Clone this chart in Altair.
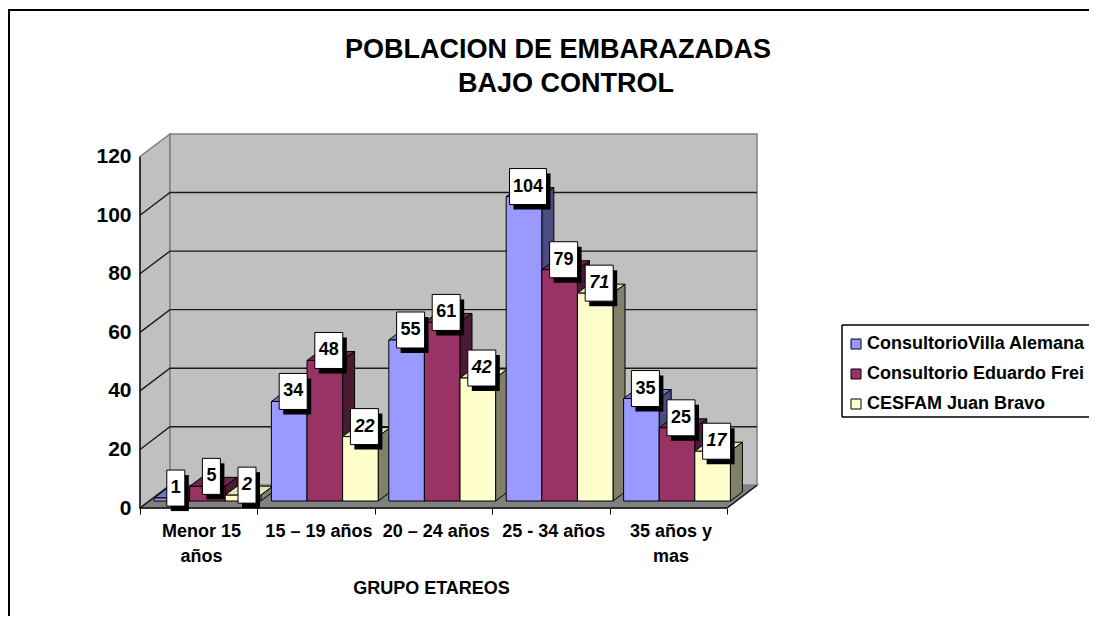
import json
import altair as alt
import pandas as pd

categories = ["Menor 15\naños", "15 – 19 años", "20 – 24 años", "25 - 34 años", "35 años y\nmas"]
series = ["ConsultorioVilla Alemana", "Consultorio Eduardo Frei", "CESFAM Juan Bravo"]
villa = [1, 34, 55, 104, 35]
frei = [5, 48, 61, 79, 25]
juan = [2, 22, 42, 71, 17]
front_colors = ["#9999FF", "#993366", "#FFFFCC"]
side_colors = ["#4C4C80", "#4D1A33", "#80806B"]
top_colors = ["#7373BF", "#732649", "#E6E6B8"]
y_ticks = [0, 20, 40, 60, 80, 100, 120]
grid_values = [20, 40, 60, 80, 100]
title_lines = ["POBLACION DE EMBARAZADAS", "BAJO CONTROL"]
FONT = "Liberation Sans"

PW, PH = 617, 374
CAT_PX = 117.4
VAL_PX = 2.9276
DX, DY = 30 / CAT_PX, 22.7 / VAL_PX
XMAX = 5 + DX
YMAX = 120 + DY
px = lambda p: p / CAT_PX
pv = lambda p: p / VAL_PX

xs = alt.Scale(domain=[0, XMAX], nice=False, zero=False)
ys = alt.Scale(domain=[0, YMAX], nice=False, zero=False)
X = alt.X("x:Q", scale=xs, axis=None)
Y = alt.Y("y:Q", scale=ys, axis=None, stack=None)
Y2 = alt.Y2("y2:Q")
X2 = alt.X2("x2:Q")

# ---------- geometry derived from the values
bar_w = px(35.6)
start = px(14)
base = pv(7)
bdx, bdy = px(12), pv(9)
fronts, faces, boxes = [], [], []
for c in range(len(categories)):
    for s, vals in enumerate([villa, frei, juan]):
        v = vals[c]
        xl = c + start + s * bar_w
        xr = xl + bar_w
        top = base + v
        fronts.append(dict(x=xl, x2=xr, y=base, y2=top, serie=series[s]))
        fid = f"{c}-{s}"
        for x_, a, b in [(xl, top, top), (xl + bdx, top + bdy, top),
                         (xr, top + bdy, top), (xr + bdx, top + bdy, top + bdy)]:
            faces.append(dict(x=x_, y=a, y2=b, id=fid + "t", fill=top_colors[s]))
        for x_, a, b in [(xr, top, base), (xr + bdx, top + bdy, base + bdy)]:
            faces.append(dict(x=x_, y=a, y2=b, id=fid + "s", fill=side_colors[s]))
        w = {1: 18, 2: 28, 3: 37}[len(str(v))]
        cx = (xl + xr) / 2 + px(4)
        cy = top + pv(10)
        boxes.append(dict(x=cx - px(w / 2), x2=cx + px(w / 2), y=cy - pv(18), y2=cy + pv(18),
                          sx=cx - px(w / 2) + px(4), sx2=cx + px(w / 2) + px(4),
                          sy=cy - pv(18) - pv(5), sy2=cy + pv(18) - pv(5),
                          cx=cx, cy=cy, label=str(v), s=s))
fronts = pd.DataFrame(fronts)
faces = pd.DataFrame(faces)
boxes = pd.DataFrame(boxes)

left_wall = pd.DataFrame([dict(x=0, y=120, y2=0), dict(x=DX, y=120 + DY, y2=DY)])
back_wall = pd.DataFrame([dict(x=DX, y=120 + DY, y2=DY), dict(x=XMAX, y=120 + DY, y2=DY)])
floor = pd.DataFrame([dict(x=0, y=0, y2=0), dict(x=DX, y=DY, y2=0),
                      dict(x=5, y=DY, y2=0), dict(x=XMAX, y=DY, y2=DY)])
grid = pd.DataFrame([dict(x=x_, y=v + d, g=v) for v in grid_values
                     for x_, d in [(0, 0), (DX, DY), (XMAX, DY)]])
edges = pd.DataFrame([dict(x=0, y=0, g="l"), dict(x=DX, y=DY, g="l"),
                      dict(x=5, y=0, g="r"), dict(x=XMAX, y=DY, g="r"),
                      dict(x=0, y=0, g="b"), dict(x=5, y=0, g="b"),
                      dict(x=0, y=0, g="a"), dict(x=0, y=120, g="a")])

WALL = "#C0C0C0"
GREY = "#808080"

label_expr = "split(" + json.dumps(categories, ensure_ascii=False) + "[datum.value] || '', '\\n')"
axis_layer = alt.Chart(pd.DataFrame({"x": [0], "y": [0]})).mark_point(opacity=0).encode(
    x=alt.X("x:Q", scale=xs, axis=alt.Axis(
        values=[0, 1, 2, 3, 4, 5], grid=False, domain=False, tickColor="black", tickSize=6, tickWidth=1,
        labelExpr=label_expr, labelOffset=61, labelFont=FONT, labelFontSize=18, labelFontWeight="bold",
        labelColor="black", labelOverlap=False, labelBound=False, labelFlush=False, labelPadding=8,
        labelLineHeight=25, labelBaseline="top",
        title="GRUPO ETAREOS", titleFont=FONT, titleFontSize=18, titleFontWeight="bold", titleColor="black",
        titleX=291, titleY=80, titleAnchor="middle", titleBaseline="middle")),
    y=alt.Y("y:Q", scale=ys, axis=alt.Axis(
        values=y_ticks, grid=False, domain=False, ticks=False, labelPadding=9, labelFont=FONT,
        labelFontSize=21, labelFontWeight="bold", labelColor="black", title=None, labelOverlap=False,
        labelBound=False, labelFlush=False)),
)


def area(df, fill, stroke=GREY):
    return alt.Chart(df).mark_area(fill=fill, stroke=stroke, strokeWidth=1.5, opacity=1).encode(x=X, y=Y, y2=Y2)


walls = [area(left_wall, WALL), area(back_wall, WALL), area(floor, GREY)]
grid_l = alt.Chart(grid).mark_line(color="#1A1A1A", strokeWidth=1.4).encode(x=X, y=Y, detail="g:N")
edge_l = alt.Chart(edges).mark_line(color="#111111", strokeWidth=1.4).encode(x=X, y=Y, detail="g:N")
face_l = alt.Chart(faces).mark_area(stroke="black", strokeWidth=1, opacity=1).encode(
    x=X, y=Y, y2=Y2, detail="id:N", fill=alt.Fill("fill:N", scale=None, legend=None))
front_l = alt.Chart(fronts).mark_rect(stroke="black", strokeWidth=1).encode(
    x=X, x2=X2, y=Y, y2=Y2,
    color=alt.Color("serie:N", scale=alt.Scale(domain=series, range=front_colors), legend=alt.Legend(
        title=None, orient="none", legendX=702, legendY=196, fillColor="transparent", strokeColor="transparent",
        padding=5, symbolType="square", symbolSize=100, symbolStrokeColor="black", symbolStrokeWidth=1,
        symbolOpacity=1, labelFont=FONT, labelFontSize=18, labelFontWeight="bold", labelColor="black",
        rowPadding=12, labelLimit=400, labelOffset=2)))
shadow_l = alt.Chart(boxes).mark_rect(color="black").encode(
    x=alt.X("sx:Q", scale=xs, axis=None), x2="sx2:Q", y=alt.Y("sy:Q", scale=ys, axis=None), y2="sy2:Q")
box_l = alt.Chart(boxes).mark_rect(fill="white", stroke="black", strokeWidth=1).encode(x=X, x2=X2, y=Y, y2=Y2)


def texts(flt, style):
    return alt.Chart(boxes).transform_filter(flt).mark_text(
        font=FONT, fontSize=18, fontWeight="bold", fontStyle=style, color="black", baseline="middle", align="center"
    ).encode(x=alt.X("cx:Q", scale=xs, axis=None), y=alt.Y("cy:Q", scale=ys, axis=None), text="label:N")


text_a = texts("datum.s < 2", "normal")
text_b = texts("datum.s == 2", "italic")

one = pd.DataFrame({"a": [0]})


def hrule(x1, x2, y, w=2):
    return alt.Chart(one).mark_rule(color="black", strokeWidth=w).encode(
        x=alt.value(x1), x2=alt.value(x2), y=alt.value(y))


def vrule(x, y1, y2, w=2):
    return alt.Chart(one).mark_rule(color="black", strokeWidth=w).encode(
        x=alt.value(x), y=alt.value(y1), y2=alt.value(y2))


frame = [hrule(-132, 949, -124), vrule(-131, -124, 484)]
legend_box = [hrule(702, 949, 191, 1.5), hrule(702, 949, 283, 1.5), vrule(702, 191, 283, 1.5)]


def title_text(line, x, y):
    return alt.Chart(one).mark_text(
        text=line, font=FONT, fontSize=27, fontWeight="bold", color="black", align="center", baseline="middle"
    ).encode(x=alt.value(x), y=alt.value(y))


titles = [title_text(title_lines[0], 418, -84), title_text(title_lines[1], 426, -50)]

chart = alt.layer(
    axis_layer, *walls, grid_l, edge_l, face_l, front_l, shadow_l, box_l, text_a, text_b,
    *frame, *legend_box, *titles
).resolve_axis(x="independent", y="independent").properties(
    width=PW, height=PH,
    padding={"left": 132, "top": 126, "right": 332, "bottom": 108},
    autosize=alt.AutoSizeParams(type="none"),
    background="white",
).configure_view(stroke=None)

chart.save("out.html", embed_options={"renderer": "svg", "actions": False})
